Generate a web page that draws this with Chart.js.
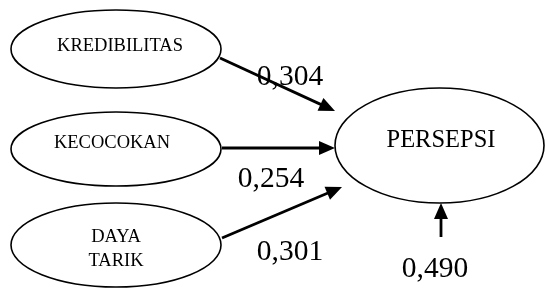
<!DOCTYPE html>
<html>
<head>
<meta charset="utf-8">
<script src="https://cdn.jsdelivr.net/npm/chart.js@4/dist/chart.umd.min.js"></script>
<style>
html,body{margin:0;padding:0;background:#fff;}
#wrap{width:545px;height:288px;}
</style>
</head>
<body>
<div id="wrap"><canvas id="c" width="545" height="288"></canvas></div>
<script>
// ---- data ----
const sourceLabels = [['KREDIBILITAS'], ['KECOCOKAN'], ['DAYA', 'TARIK']];
const targetLabel = 'PERSEPSI';
const pathCoefficients = [0.304, 0.254, 0.301];
const residualCoefficient = 0.490;

// node centres (diagram units)
const nodeX = [116, 116, 116, 439.5];
const nodeY = [49, 149, 245, 145.5];

// path endpoints (diagram units): three causal paths + residual
const pathFromX = [220, 222, 222, 441];
const pathFromY = [58, 148, 238, 237];
const pathToX = [335, 335, 342, 441];
const pathToY = [111, 148, 187, 203];

// ---- layout/style ----
const nodeRX = [105, 105, 105, 104.5];
const nodeRY = [39, 37, 42, 57.5];
const labelBaselines = [[51], [148], [242, 266], [147]];
const labelXs = [120, 112, 116, 441];
const coefPos = [[290, 85], [271, 187], [290, 260], [435, 277]];
const HEAD_LEN = 16, HEAD_HALF = 7;

function fmt(v) { return v.toFixed(3).replace('.', ','); }

const datasets = pathFromX.map((fx, i) => {
  const tx = pathToX[i], ty = pathToY[i], fy = pathFromY[i];
  const dx = tx - fx, dy = ty - fy, L = Math.hypot(dx, dy);
  const ex = tx - dx / L * (HEAD_LEN - 2), ey = ty - dy / L * (HEAD_LEN - 2);
  return {
    data: [{x: fx, y: fy}, {x: ex, y: ey}],
    showLine: true, borderColor: '#000', borderWidth: 2.8,
    pointRadius: 0, clip: false, fill: false
  };
});

const diagramPlugin = {
  id: 'diagram',
  afterDatasetsDraw(chart) {
    const ctx = chart.ctx, xs = chart.scales.x, ys = chart.scales.y;
    const px = v => xs.getPixelForValue(v), py = v => ys.getPixelForValue(v);
    ctx.save();
    // ellipses
    ctx.strokeStyle = '#000';
    ctx.lineWidth = 1.6;
    for (let i = 0; i < nodeX.length; i++) {
      const cx = px(nodeX[i]), cy = py(nodeY[i]);
      const rx = Math.abs(px(nodeX[i] + nodeRX[i]) - cx);
      const ry = Math.abs(py(nodeY[i] + nodeRY[i]) - cy);
      ctx.beginPath();
      ctx.ellipse(cx, cy, rx, ry, 0, 0, Math.PI * 2);
      ctx.stroke();
    }
    // arrowheads
    ctx.fillStyle = '#000';
    for (let i = 0; i < pathToX.length; i++) {
      const tx = px(pathToX[i]), ty = py(pathToY[i]);
      const fx = px(pathFromX[i]), fy = py(pathFromY[i]);
      const dx = tx - fx, dy = ty - fy, L = Math.hypot(dx, dy);
      const ux = dx / L, uy = dy / L;
      const bx = tx - ux * HEAD_LEN, by = ty - uy * HEAD_LEN;
      ctx.beginPath();
      ctx.moveTo(tx, ty);
      ctx.lineTo(bx - uy * HEAD_HALF, by + ux * HEAD_HALF);
      ctx.lineTo(bx + uy * HEAD_HALF, by - ux * HEAD_HALF);
      ctx.closePath();
      ctx.fill();
    }
    // node labels
    ctx.textAlign = 'center';
    ctx.textBaseline = 'alphabetic';
    const allLabels = sourceLabels.concat([[targetLabel]]);
    allLabels.forEach((lines, i) => {
      ctx.font = (i === 3 ? '24.5px' : '18.5px') + ' "Liberation Serif", "Times New Roman", serif';
      lines.forEach((t, j) => ctx.fillText(t, px(labelXs[i]), py(labelBaselines[i][j])));
    });
    // coefficients
    ctx.font = '29.5px "Liberation Serif", "Times New Roman", serif';
    const coefs = pathCoefficients.concat([residualCoefficient]);
    coefs.forEach((v, i) => ctx.fillText(fmt(v), px(coefPos[i][0]), py(coefPos[i][1])));
    ctx.restore();
  }
};

new Chart(document.getElementById('c'), {
  type: 'scatter',
  data: { datasets },
  options: {
    responsive: false,
    animation: false,
    events: [],
    layout: { padding: 0 },
    plugins: { legend: { display: false }, tooltip: { enabled: false } },
    scales: {
      x: { type: 'linear', min: 0, max: 545, display: false },
      y: { type: 'linear', min: 0, max: 288, reverse: true, display: false }
    }
  },
  plugins: [diagramPlugin]
});
</script>
</body>
</html>
